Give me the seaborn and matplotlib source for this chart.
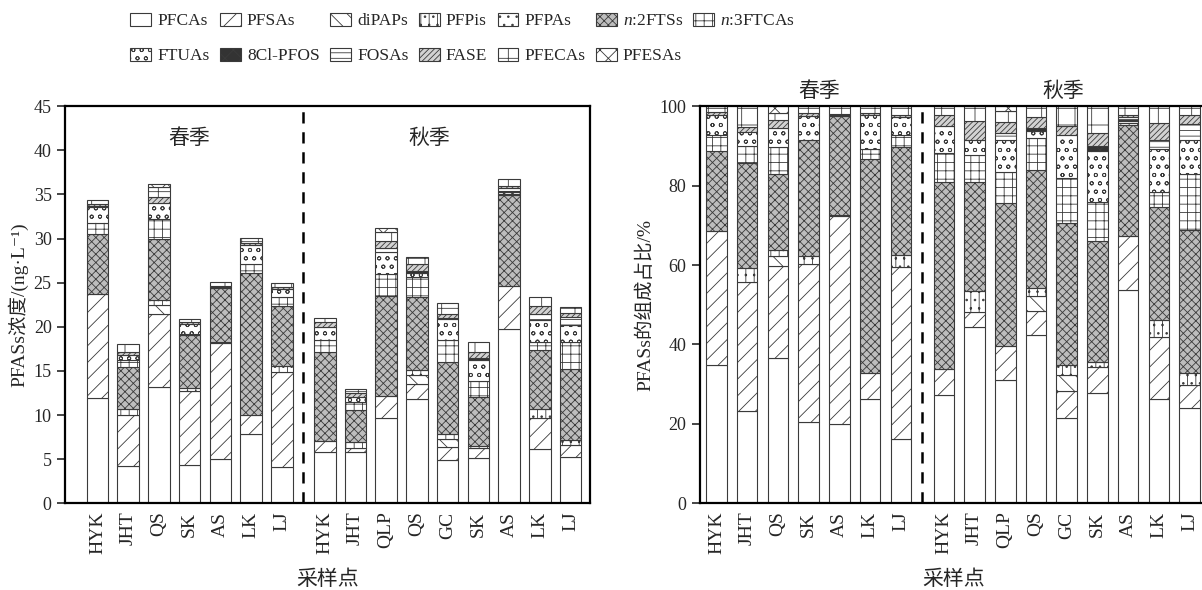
import numpy as np
import pandas as pd
import matplotlib
matplotlib.use('Agg')
import matplotlib.pyplot as plt
from matplotlib.patches import Patch
import seaborn as sns

# sites: spring (7) then autumn (9)
spring_sites = ['HYK', 'JHT', 'QS', 'SK', 'AS', 'LK', 'LJ']
autumn_sites = ['HYK', 'JHT', 'QLP', 'QS', 'GC', 'SK', 'AS', 'LK', 'LJ']
groups = ['PFCAs', 'PFSAs', 'diPAPs', 'PFPis', 'PFPAs', 'n:2FTSs', 'n:3FTCAs',
          'FTUAs', '8Cl-PFOS', 'FOSAs', 'FASE', 'PFECAs', 'PFESAs']

# concentrations, ng/L (left panel)
conc_pfcas = [11.9, 4.2, 13.2, 4.3, 5.0, 7.9, 4.1, 5.8, 5.8, 9.7, 11.8, 4.9, 5.1, 19.8, 6.1, 5.3]
conc_pfsas = [11.8, 5.8, 8.3, 8.4, 13.2, 2.1, 10.8, 1.3, 0.5, 2.5, 1.7, 1.5, 1.2, 4.8, 3.6, 1.3]
conc_dipaps = [0, 0, 1.0, 0, 0, 0, 0, 0, 0, 0, 1.0, 0.9, 0, 0, 0, 0]
conc_pfpis = [0, 0.7, 0.5, 0.4, 0, 0, 0.7, 0, 0.7, 0, 0.6, 0.6, 0.2, 0, 1.0, 0.6]
conc_pfpas = [0, 0, 0, 0, 0.1, 0, 0, 0, 0, 0, 0, 0, 0, 0, 0, 0]
conc_n2ftss = [6.8, 4.7, 6.9, 6.0, 6.1, 16.1, 6.8, 10.0, 3.6, 11.3, 8.3, 8.1, 5.6, 10.3, 6.7, 8.0]
conc_n3ftcas = [1.3, 0.8, 2.3, 0.1, 0, 1.0, 1.0, 1.4, 0.9, 2.5, 2.2, 2.5, 1.8, 0.2, 0.9, 3.1]
conc_ftuas = [1.8, 0.6, 1.8, 1.1, 0, 2.2, 0.9, 1.5, 0.5, 2.5, 0.5, 2.4, 2.3, 0.2, 2.5, 1.9]
conc_cl8pfos = [0, 0, 0, 0, 0, 0, 0, 0, 0, 0, 0.2, 0, 0.3, 0.1, 0, 0]
conc_fosas = [0.1, 0, 0, 0, 0.1, 0, 0, 0, 0, 0.4, 0, 0.1, 0, 0.3, 0.6, 0.9]
conc_fase = [0.2, 0.3, 0.7, 0.2, 0.1, 0.2, 0.2, 0.5, 0.5, 0.8, 0.8, 0.5, 0.6, 0.3, 1.0, 0.5]
conc_pfecas = [0.5, 0.9, 1.1, 0.4, 0.5, 0.6, 0.5, 0.5, 0.5, 1.0, 0.8, 1.2, 1.2, 0.8, 1.0, 0.6]
conc_pfesas = [0, 0, 0.4, 0, 0, 0, 0, 0, 0, 0.5, 0, 0, 0, 0, 0, 0]

# composition, % (right panel)
pct_pfcas = [34.7, 23.3, 36.5, 20.5, 20.0, 26.3, 16.2, 27.3, 44.3, 31.1, 42.3, 21.5, 27.8, 53.7, 26.3, 24.1]
pct_pfsas = [33.9, 32.4, 23.3, 39.8, 52.4, 6.6, 43.3, 6.4, 3.8, 8.4, 6.1, 6.9, 6.6, 13.6, 15.5, 5.8]
pct_dipaps = [0, 0, 2.5, 0, 0, 0, 0, 0, 0, 0, 3.7, 4.0, 0, 0, 0, 0]
pct_pfpis = [0, 3.5, 1.5, 2.0, 0, 0, 3.0, 0, 5.3, 0, 2.1, 2.5, 1.3, 0, 4.3, 3.0]
pct_pfpas = [0, 0, 0, 0, 0.3, 0, 0, 0, 0, 0, 0, 0, 0, 0, 0, 0]
pct_n2ftss = [20.0, 26.4, 19.0, 29.1, 24.8, 53.9, 27.1, 47.3, 27.6, 36.2, 29.8, 35.7, 30.4, 27.9, 28.6, 36.0]
pct_n3ftcas = [4.1, 4.5, 6.8, 0, 0, 2.3, 3.1, 7.1, 6.6, 7.8, 7.9, 11.4, 9.8, 0.6, 3.8, 14.1]
pct_ftuas = [5.0, 3.3, 4.8, 6.1, 0, 8.6, 4.5, 6.8, 3.8, 7.9, 1.9, 10.7, 12.7, 0.5, 10.6, 8.4]
pct_cl8pfos = [0, 0, 0, 0, 0, 0, 0, 0, 0, 0, 0.6, 0, 1.5, 0.3, 0, 0]
pct_fosas = [0, 0, 0, 0, 0.3, 0, 0, 0, 0, 1.8, 0, 0, 0, 0.8, 2.5, 4.0]
pct_fase = [0.8, 1.3, 2.1, 0.7, 0.2, 0.6, 0.6, 2.8, 4.8, 2.7, 2.8, 2.2, 3.1, 0.5, 4.1, 2.3]
pct_pfecas = [1.5, 5.3, 1.8, 1.8, 2.0, 1.7, 2.2, 2.3, 3.8, 2.8, 2.8, 5.1, 6.8, 2.1, 4.3, 2.3]
pct_pfesas = [0, 0, 1.7, 0, 0, 0, 0, 0, 0, 1.3, 0, 0, 0, 0, 0, 0]

conc = dict(zip(groups, [conc_pfcas, conc_pfsas, conc_dipaps, conc_pfpis, conc_pfpas,
                         conc_n2ftss, conc_n3ftcas, conc_ftuas, conc_cl8pfos, conc_fosas,
                         conc_fase, conc_pfecas, conc_pfesas]))
pct = dict(zip(groups, [pct_pfcas, pct_pfsas, pct_dipaps, pct_pfpis, pct_pfpas,
                        pct_n2ftss, pct_n3ftcas, pct_ftuas, pct_cl8pfos, pct_fosas,
                        pct_fase, pct_pfecas, pct_pfesas]))

# fill colour and hatch for each group
styles = {
    'PFCAs': ('white', ''),
    'PFSAs': ('white', '//'),
    'diPAPs': ('white', '\\\\'),
    'PFPis': ('white', '..||'),
    'PFPAs': ('white', '..'),
    'n:2FTSs': ('#bdbdbd', 'xxxx'),
    'n:3FTCAs': ('white', '++'),
    'FTUAs': ('white', 'oo'),
    '8Cl-PFOS': ('#333333', 'xx'),
    'FOSAs': ('white', '---'),
    'FASE': ('#d2d2d2', '//////'),
    'PFECAs': ('white', '+'),
    'PFESAs': ('white', 'xx'),
}
legend_labels = {g: g for g in groups}
legend_labels['n:2FTSs'] = '$n$:2FTSs'
legend_labels['n:3FTCAs'] = '$n$:3FTCAs'
edge = '#3a3a3a'

sns.set_style('ticks')
plt.rcParams['font.family'] = ['Liberation Serif', 'Noto Sans CJK SC', 'DejaVu Sans']
plt.rcParams['mathtext.fontset'] = 'custom'
plt.rcParams['mathtext.rm'] = 'Liberation Serif'
plt.rcParams['mathtext.it'] = 'Liberation Serif:italic'
plt.rcParams['hatch.linewidth'] = 0.6

# bar positions: a wider gap between the two seasons
pos = [float(i) for i in range(len(spring_sites))] + \
      [7.4 + i for i in range(len(autumn_sites))]
tick_labels = spring_sites + autumn_sites
split = 6.7


def draw_stack(ax, table, width):
    bottom = np.zeros(len(pos))
    for g in groups:
        vals = np.array(table[g], dtype=float)
        keep = vals > 0
        xs = np.array(pos)[keep]
        # seaborn scales width by the smallest gap between x values
        ux = np.unique(xs)
        native = np.min(np.diff(ux)) if len(ux) > 1 else 1.0
        df = pd.DataFrame({'x': xs, 'y': vals[keep]})
        face, hatch = styles[g]
        sns.barplot(data=df, x='x', y='y', native_scale=True, width=width / native,
                    color=face, saturation=1, errorbar=None, bottom=bottom[keep],
                    hatch=hatch, edgecolor=edge, linewidth=0.8, ax=ax)
        bottom += vals


fig = plt.figure(figsize=(12.02, 5.90), dpi=100)
ax1 = fig.add_axes([0.054, 0.147, 0.437, 0.673])
ax2 = fig.add_axes([0.582, 0.147, 0.423, 0.673])

draw_stack(ax1, conc, 0.7)
draw_stack(ax2, pct, 0.67)

for ax in (ax1, ax2):
    ax.axvline(split, color='black', lw=1.8, ls=(0, (4.5, 3.5)))
    ax.set_xticks(pos)
    ax.set_xticklabels(tick_labels, rotation=90, fontsize=14)
    ax.tick_params(axis='x', length=0, pad=6)
    ax.tick_params(axis='y', direction='out', length=6, width=1.2, labelsize=13)
    for s in ax.spines.values():
        s.set_linewidth(1.6)
        s.set_color('black')
    ax.set_xlabel('采样点', fontsize=15, labelpad=12)

ax1.set_xlim(-1.06, 16.04)
ax1.set_ylim(0, 45)
ax1.set_yticks(range(0, 46, 5))
ax1.set_ylabel('PFASs浓度/(ng·L⁻¹)', fontsize=14)
ax1.text(3.0, 41.3, '春季', ha='center', va='center', fontsize=15)
ax1.text(10.8, 41.3, '秋季', ha='center', va='center', fontsize=15)

ax2.set_xlim(-0.55, 16.0)
ax2.set_ylim(0, 100)
ax2.set_yticks(range(0, 101, 20))
ax2.set_ylabel('PFASs的组成占比/%', fontsize=14)
ax2.text(3.35, 103.5, '春季', ha='center', va='center', fontsize=15, clip_on=False)
ax2.text(11.3, 103.5, '秋季', ha='center', va='center', fontsize=15, clip_on=False)

# legend laid out row by row (matplotlib fills by column)
order = [0, 7, 1, 8, 2, 9, 3, 10, 4, 11, 5, 12, 6]
handles = [Patch(facecolor=styles[groups[i]][0], hatch=styles[groups[i]][1],
                 edgecolor=edge, linewidth=0.8, label=legend_labels[groups[i]])
           for i in order]
fig.legend(handles=handles, loc='upper center', bbox_to_anchor=(0.385, 1.005),
           ncol=7, frameon=False, fontsize=12.5, handlelength=1.2, handleheight=0.8,
           handletextpad=0.35, columnspacing=0.6, labelspacing=1.05)

fig.savefig('out.png', dpi=100)
